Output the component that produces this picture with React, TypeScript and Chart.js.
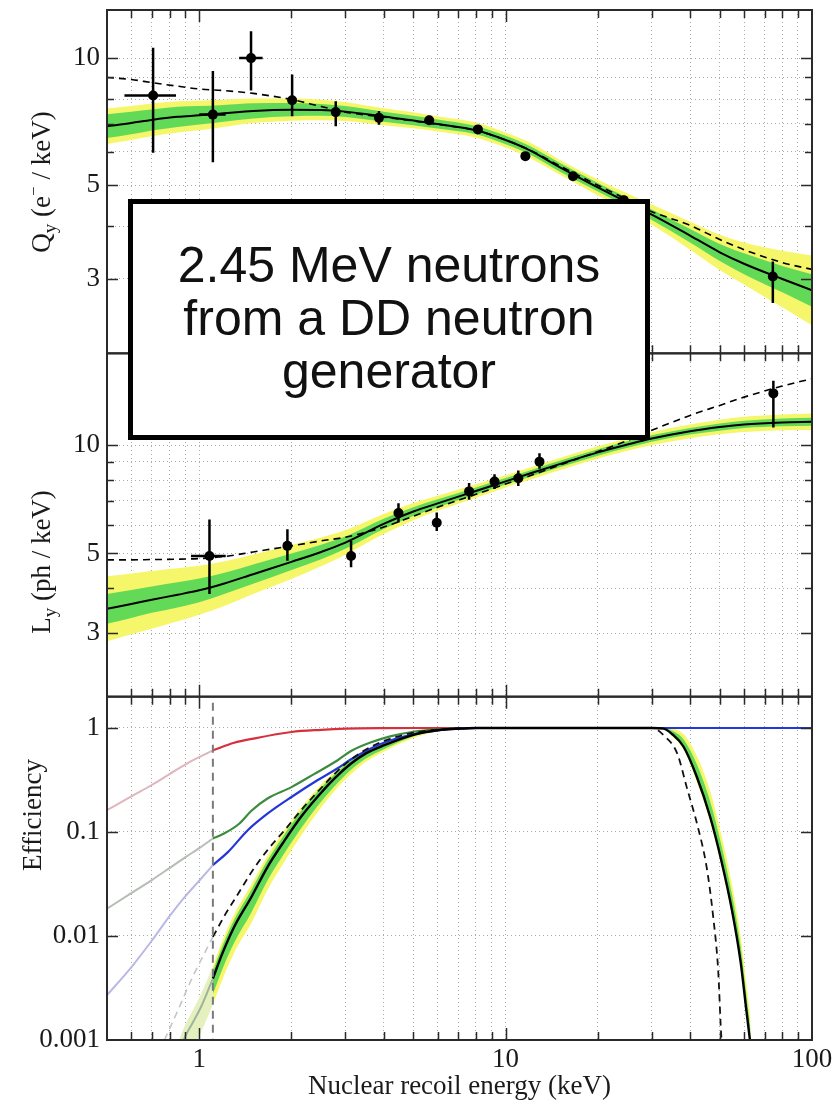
import { useEffect, useRef } from 'react';
import { Chart, registerables } from 'chart.js';

Chart.register(...registerables);

const SERIF = '"Liberation Serif", "Times New Roman", Times, serif';
const SANS = '"Liberation Sans", Arial, Helvetica, sans-serif';

// ---------------- axes ----------------
const xMin = 0.5;
const xMax = 100;
const xGridValues = [0.5, 0.6, 0.7, 0.8, 0.9, 1, 2, 3, 4, 5, 6, 7, 8, 9, 10, 20, 30, 40, 50, 60, 70, 80, 90, 100];
const xLabelValues = [1, 10, 100];

const qyMin = 2;
const qyMax = 13;
const qyGridValues = [3, 4, 5, 6, 7, 8, 9, 10];
const qyLabelValues = [3, 5, 10];

const lyMin = 2;
const lyMax = 18;
const lyGridValues = [3, 4, 5, 6, 7, 8, 9, 10];
const lyLabelValues = [3, 5, 10];

const effMin = 0.001;
const effMax = 2;
const effGridValues = [0.001, 0.01, 0.1, 1];
const effLabelValues = [0.001, 0.01, 0.1, 1];

// ---------------- Qy / Ly fits ----------------
const fitX = [0.5, 0.6, 0.7, 0.85, 1, 1.2, 1.5, 2, 2.5, 3, 4, 5, 6, 8, 10, 12, 15, 20, 25, 30, 40, 50, 60, 80, 100];

const qyFit = [6.90, 7.02, 7.14, 7.26, 7.32, 7.40, 7.50, 7.55, 7.54, 7.47, 7.27, 7.12, 6.98, 6.75, 6.40, 6.05, 5.52, 4.94, 4.55, 4.26, 3.80, 3.47, 3.26, 3.00, 2.82];
const qyGreenHi = [7.36, 7.47, 7.56, 7.67, 7.70, 7.75, 7.82, 7.83, 7.79, 7.70, 7.47, 7.30, 7.16, 6.91, 6.55, 6.19, 5.65, 5.06, 4.67, 4.38, 3.94, 3.63, 3.45, 3.22, 3.08];
const qyGreenLo = [6.47, 6.60, 6.74, 6.87, 6.96, 7.07, 7.20, 7.28, 7.30, 7.25, 7.07, 6.94, 6.81, 6.60, 6.25, 5.91, 5.39, 4.83, 4.44, 4.14, 3.66, 3.31, 3.08, 2.79, 2.58];
const qyYellowHi = [7.60, 7.70, 7.81, 7.91, 7.93, 7.97, 8.02, 8.02, 7.97, 7.86, 7.61, 7.44, 7.28, 7.04, 6.67, 6.31, 5.75, 5.16, 4.78, 4.50, 4.10, 3.82, 3.66, 3.50, 3.41];
const qyYellowLo = [6.26, 6.40, 6.53, 6.67, 6.75, 6.87, 7.02, 7.11, 7.13, 7.10, 6.94, 6.82, 6.70, 6.48, 6.14, 5.80, 5.30, 4.73, 4.34, 4.03, 3.52, 3.15, 2.91, 2.57, 2.33];
const qyDashed = [9.0, 8.9, 8.75, 8.58, 8.45, 8.38, 8.25, 7.98, 7.68, 7.45, 7.25, 7.10, 6.97, 6.74, 6.40, 6.06, 5.56, 5.0, 4.62, 4.33, 4.02, 3.72, 3.52, 3.28, 3.16];

const lyFit = [3.51, 3.62, 3.72, 3.84, 3.95, 4.12, 4.38, 4.74, 5.05, 5.36, 6.04, 6.54, 6.89, 7.46, 7.93, 8.34, 8.86, 9.55, 10.04, 10.43, 10.93, 11.23, 11.42, 11.57, 11.62];
const lyGreenHi = [3.86, 3.96, 4.05, 4.16, 4.26, 4.41, 4.66, 5.00, 5.29, 5.57, 6.24, 6.72, 7.07, 7.63, 8.10, 8.51, 9.05, 9.75, 10.25, 10.65, 11.16, 11.49, 11.69, 11.87, 11.92];
const lyGreenLo = [3.19, 3.31, 3.42, 3.54, 3.66, 3.85, 4.12, 4.50, 4.82, 5.15, 5.85, 6.36, 6.72, 7.29, 7.77, 8.17, 8.68, 9.35, 9.83, 10.22, 10.71, 10.97, 11.16, 11.28, 11.33];
const lyYellowHi = [4.32, 4.40, 4.47, 4.55, 4.62, 4.75, 4.97, 5.28, 5.54, 5.80, 6.44, 6.91, 7.23, 7.79, 8.25, 8.67, 9.21, 9.93, 10.44, 10.87, 11.42, 11.76, 11.99, 12.17, 12.25];
const lyYellowLo = [2.85, 2.98, 3.09, 3.24, 3.38, 3.57, 3.86, 4.25, 4.61, 4.96, 5.66, 6.19, 6.57, 7.14, 7.63, 8.02, 8.52, 9.18, 9.65, 10.01, 10.46, 10.72, 10.88, 11.00, 11.02];
const lyDashed = [4.80, 4.80, 4.81, 4.82, 4.84, 4.90, 5.05, 5.25, 5.42, 5.55, 5.92, 6.35, 6.72, 7.30, 7.80, 8.22, 8.80, 9.60, 10.3, 11.0, 12.1, 12.9, 13.6, 14.6, 15.3];

// ---------------- measured points ----------------
const qyPointX = [0.707, 1.108, 1.476, 2.01, 2.79, 3.86, 5.63, 8.12, 11.6, 16.6, 24.3, 74.5];
const qyPointY = [8.16, 7.35, 10.0, 7.95, 7.45, 7.22, 7.13, 6.78, 5.86, 5.25, 4.61, 3.04];
const qyErrLo = [5.97, 5.67, 8.38, 7.28, 6.90, 6.95, 6.95, 6.65, 5.75, 5.15, 4.50, 2.63];
const qyErrHi = [10.58, 9.32, 11.58, 9.14, 7.90, 7.50, 7.30, 6.92, 5.97, 5.35, 4.72, 3.30];
const qyErrXLo = [0.57, 1.0, 1.35, 2.01, 2.79, 3.86, 5.63, 8.12, 11.6, 16.6, 24.3, 74.5];
const qyErrXHi = [0.84, 1.22, 1.61, 2.01, 2.79, 3.86, 5.63, 8.12, 11.6, 16.6, 24.3, 74.5];

const lyPointX = [1.08, 1.94, 3.13, 4.47, 5.96, 7.6, 9.2, 11.0, 12.9, 74.8];
const lyPointY = [4.92, 5.25, 4.92, 6.48, 6.09, 7.44, 7.92, 8.09, 9.0, 13.93];
const lyErrLo = [3.86, 4.77, 4.58, 6.10, 5.77, 7.05, 7.55, 7.70, 8.60, 11.2];
const lyErrHi = [6.21, 5.84, 5.42, 6.90, 6.50, 7.85, 8.30, 8.50, 9.50, 15.1];
const lyErrXLo = [0.94, 1.94, 3.13, 4.47, 5.96, 7.6, 9.2, 11.0, 12.9, 74.8];
const lyErrXHi = [1.22, 1.94, 3.13, 4.47, 5.96, 7.6, 9.2, 11.0, 12.9, 74.8];

// ---------------- efficiency ----------------
const thresholdX = [1.108, 1.108];
const thresholdY = [1.75, 0.001];

const effRedFadedX = [0.5, 0.6, 0.7, 0.8, 0.9, 1.0, 1.108];
const effRedFadedY = [0.162, 0.22, 0.283, 0.36, 0.445, 0.525, 0.61];
const effRedX = [1.108, 1.3, 1.5, 2, 2.5, 3, 4, 6, 100];
const effRedY = [0.61, 0.72, 0.79, 0.915, 0.96, 0.985, 0.997, 1, 1];

const effGreenFadedX = [0.5, 0.6, 0.7, 0.8, 0.9, 1.0, 1.108];
const effGreenFadedY = [0.0183, 0.0258, 0.0345, 0.045, 0.057, 0.070, 0.0865];
const effGreenX = [1.108, 1.2, 1.35, 1.48, 1.67, 2.0, 2.37, 2.83, 3.13, 3.6, 4.2, 5, 6, 7, 8, 100];
const effGreenY = [0.0865, 0.096, 0.12, 0.16, 0.21, 0.27, 0.36, 0.49, 0.6, 0.72, 0.83, 0.92, 0.97, 0.99, 1, 1];

const effBlueFadedX = [0.5, 0.6, 0.7, 0.8, 0.9, 1.0, 1.108];
const effBlueFadedY = [0.0027, 0.005, 0.009, 0.0155, 0.024, 0.034, 0.048];
const effBlueX = [1.108, 1.24, 1.44, 1.67, 2.0, 2.43, 2.83, 3.13, 4, 5, 6, 7, 8, 100];
const effBlueY = [0.048, 0.064, 0.104, 0.15, 0.217, 0.314, 0.41, 0.5, 0.72, 0.87, 0.95, 0.985, 1, 1];

const effDashFadedX = [0.77, 0.85, 0.95, 1.108];
const effDashFadedY = [0.001, 0.0019, 0.004, 0.0098];
const effDashX = [1.108, 1.22, 1.34, 1.48, 1.67, 1.9, 2.15, 2.43, 2.76, 3.05, 3.5, 4, 5, 6, 7, 8, 30, 32.8, 36.3, 39, 42.4, 45.3, 47.6, 49.4, 50.6, 51.2];
const effDashY = [0.0098, 0.0164, 0.0255, 0.041, 0.067, 0.104, 0.162, 0.242, 0.36, 0.47, 0.62, 0.75, 0.9, 0.965, 0.99, 1, 1, 0.85, 0.57, 0.27, 0.112, 0.046, 0.0152, 0.0047, 0.00106, 0.0008];

const effFitFadedX = [0.86, 0.9, 0.95, 1.015, 1.108];
const effFitFadedY = [0.00078, 0.00108, 0.00145, 0.0021, 0.0039];
const effFitFadedHi = [0.001, 0.0014, 0.0019, 0.0028, 0.0051];
const effFitFadedLo = [0.0004, 0.0006, 0.0008, 0.0012, 0.0022];

const effFitX = [1.108, 1.19, 1.3, 1.48, 1.67, 1.9, 2.15, 2.43, 2.76, 3.13, 3.5, 4, 5, 6, 7, 8, 30, 32.8, 35, 38.1, 42.1, 46.5, 50.6, 54.8, 58.4, 61.1, 63];
const effFitY = [0.0039, 0.0068, 0.0122, 0.0237, 0.046, 0.083, 0.14, 0.217, 0.326, 0.455, 0.57, 0.68, 0.86, 0.95, 0.985, 1, 1, 0.985, 0.87, 0.66, 0.338, 0.14, 0.053, 0.0177, 0.0058, 0.0019, 0.0009];
const effYellowHi = [0.0051, 0.009, 0.0161, 0.0312, 0.059, 0.1045, 0.172, 0.261, 0.379, 0.51, 0.625, 0.729, 0.89, 0.96, 0.99, 1, 1, 1, 0.99, 0.87, 0.536, 0.249, 0.094, 0.0315, 0.0103, 0.0034, 0.0016];
const effYellowLo = [0.0022, 0.0038, 0.0069, 0.0133, 0.0277, 0.0524, 0.0925, 0.154, 0.247, 0.361, 0.474, 0.592, 0.80, 0.925, 0.975, 1, 1, 0.97, 0.83, 0.616, 0.301, 0.125, 0.047, 0.0158, 0.0052, 0.0017, 0.0008];
const effGreenHi = [0.00458, 0.008, 0.0143, 0.0278, 0.0534, 0.0953, 0.159, 0.2435, 0.357, 0.488, 0.604, 0.709, 0.877, 0.956, 0.988, 1, 1, 0.995, 0.943, 0.776, 0.446, 0.198, 0.075, 0.025, 0.0082, 0.0027, 0.00127];
const effGreenLo = [0.00276, 0.0048, 0.0086, 0.0168, 0.0341, 0.063, 0.1086, 0.1764, 0.274, 0.396, 0.508, 0.626, 0.83, 0.935, 0.98, 1, 1, 0.975, 0.846, 0.633, 0.315, 0.131, 0.0495, 0.0165, 0.0054, 0.00177, 0.00084];

// ---------------- annotation text ----------------
const boxLines = ['2.45 MeV neutrons', 'from a DD neutron', 'generator'];
const xTitle = 'Nuclear recoil energy (keV)';

// ---------------- colours ----------------
const YELLOW = '#f6f66a';
const GREEN = '#62d957';
const FADED_BAND = '#e4f1bf';

const same = (a: number, b: number) => Math.abs(a - b) <= Math.abs(b) * 1e-6;
const pts = (xs: number[], ys: number[]) => xs.map((x, i) => ({ x, y: ys[i] }));

function line(axis: string, xs: number[], ys: number[], opts: any = {}) {
  return {
    data: pts(xs, ys),
    yAxisID: axis,
    pointRadius: 0,
    pointHoverRadius: 0,
    borderWidth: 2,
    borderColor: '#000',
    fill: false,
    cubicInterpolationMode: 'monotone',
    ...opts,
  };
}

function band(axis: string, xs: number[], hi: number[], lo: number[], color: string, order: number) {
  return [
    line(axis, xs, hi, { borderWidth: 0, borderColor: 'rgba(0,0,0,0)', backgroundColor: color, fill: '+1', order }),
    line(axis, xs, lo, { borderWidth: 0, borderColor: 'rgba(0,0,0,0)', order }),
  ];
}

function points(axis: string, xs: number[], ys: number[]) {
  return {
    data: pts(xs, ys),
    yAxisID: axis,
    showLine: false,
    pointRadius: 5,
    pointHoverRadius: 5,
    pointBackgroundColor: '#000',
    pointBorderColor: '#000',
    pointBorderWidth: 0,
    order: 0,
  };
}

const errorSets = [
  { axis: 'yQ', x: qyPointX, y: qyPointY, lo: qyErrLo, hi: qyErrHi, xlo: qyErrXLo, xhi: qyErrXHi },
  { axis: 'yL', x: lyPointX, y: lyPointY, lo: lyErrLo, hi: lyErrHi, xlo: lyErrXLo, xhi: lyErrXHi },
];

const panels = [
  { axis: 'yQ', ticks: qyGridValues, majors: qyLabelValues },
  { axis: 'yL', ticks: lyGridValues, majors: lyLabelValues },
  { axis: 'yE', ticks: effGridValues, majors: effLabelValues },
];

function fmt(v: number) {
  return String(v);
}

function yScale(min: number, max: number, grid: number[], labels: number[], weight: number) {
  return {
    type: 'logarithmic',
    position: 'left',
    stack: 'panels',
    stackWeight: 1,
    weight,
    min,
    max,
    afterBuildTicks: (s: any) => {
      s.ticks = grid.map((v) => ({ value: v }));
    },
    afterFit: (s: any) => {
      s.width = 107;
      s.paddingTop = 0;
      s.paddingBottom = 0;
    },
    ticks: {
      autoSkip: false,
      padding: 7,
      color: '#1a1a1a',
      font: { family: SERIF, size: 27 },
      callback: (v: number) => (labels.some((l) => same(v, l)) ? fmt(v) : ''),
    },
    grid: {
      drawTicks: false,
      lineWidth: 1,
      color: (ctx: any) =>
        ctx.tick && !same(ctx.tick.value, min) && !same(ctx.tick.value, max) ? '#a9a9a9' : 'rgba(0,0,0,0)',
    },
    border: { display: false, dash: [1, 3] },
  };
}

function drawRich(ctx: CanvasRenderingContext2D, cx: number, cy: number, parts: { t: string; s: number; dy?: number }[]) {
  ctx.save();
  ctx.translate(cx, cy);
  ctx.rotate(-Math.PI / 2);
  let total = 0;
  for (const p of parts) {
    ctx.font = `${p.s}px ${SERIF}`;
    total += ctx.measureText(p.t).width;
  }
  let x = -total / 2;
  ctx.textAlign = 'left';
  ctx.textBaseline = 'alphabetic';
  ctx.fillStyle = '#1a1a1a';
  for (const p of parts) {
    ctx.font = `${p.s}px ${SERIF}`;
    ctx.fillText(p.t, x, p.dy || 0);
    x += ctx.measureText(p.t).width;
  }
  ctx.restore();
}

const decorPlugin = {
  id: 'decor',
  beforeDatasetDraw(chart: any, args: any) {
    const ys = chart.scales[args.meta.yAxisID];
    const ca = chart.chartArea;
    const ctx = chart.ctx;
    ctx.save();
    ctx.beginPath();
    ctx.rect(ca.left, ys.top, ca.right - ca.left, ys.bottom - ys.top);
    ctx.clip();
  },
  afterDatasetDraw(chart: any) {
    chart.ctx.restore();
  },
  afterDatasetsDraw(chart: any) {
    const ctx: CanvasRenderingContext2D = chart.ctx;
    const xs = chart.scales.x;
    const ca = chart.chartArea;

    // error bars
    for (const e of errorSets) {
      const ys = chart.scales[e.axis];
      ctx.save();
      ctx.beginPath();
      ctx.rect(ca.left, ys.top, ca.right - ca.left, ys.bottom - ys.top);
      ctx.clip();
      ctx.strokeStyle = '#000';
      ctx.lineWidth = 2.5;
      e.x.forEach((x, i) => {
        const px = xs.getPixelForValue(x);
        const py = ys.getPixelForValue(e.y[i]);
        ctx.beginPath();
        ctx.moveTo(px, ys.getPixelForValue(e.lo[i]));
        ctx.lineTo(px, ys.getPixelForValue(e.hi[i]));
        if (e.xhi[i] > e.xlo[i]) {
          ctx.moveTo(xs.getPixelForValue(e.xlo[i]), py);
          ctx.lineTo(xs.getPixelForValue(e.xhi[i]), py);
        }
        ctx.stroke();
      });
      ctx.restore();
    }

    // frames and inward ticks
    ctx.save();
    ctx.strokeStyle = '#2a2a2a';
    for (const p of panels) {
      const ys = chart.scales[p.axis];
      const top = ys.top;
      const bottom = ys.bottom;
      ctx.lineWidth = 1.5;
      ctx.beginPath();
      for (const v of xGridValues) {
        if (same(v, xMin) || same(v, xMax)) continue;
        const px = Math.round(xs.getPixelForValue(v)) + 0.5;
        const len = xLabelValues.some((l) => same(l, v)) ? 12 : 8;
        ctx.moveTo(px, top);
        ctx.lineTo(px, top + len);
        ctx.moveTo(px, bottom);
        ctx.lineTo(px, bottom - len);
      }
      for (const v of p.ticks) {
        const py = Math.round(ys.getPixelForValue(v)) + 0.5;
        if (py <= top + 1 || py >= bottom - 1) continue;
        const len = p.majors.some((l) => same(l, v)) ? 11 : 7;
        ctx.moveTo(ca.left, py);
        ctx.lineTo(ca.left + len, py);
        ctx.moveTo(ca.right, py);
        ctx.lineTo(ca.right - len, py);
      }
      ctx.stroke();
      ctx.lineWidth = 2;
      ctx.strokeRect(ca.left, top, ca.right - ca.left, bottom - top);
    }
    ctx.restore();
  },
  afterDraw(chart: any) {
    const ctx: CanvasRenderingContext2D = chart.ctx;
    const ca = chart.chartArea;

    // axis titles
    drawRich(ctx, 50, 182, [
      { t: 'Q', s: 27 },
      { t: 'y', s: 19, dy: 6 },
      { t: ' (e', s: 27 },
      { t: '\u2212', s: 17, dy: -11 },
      { t: ' / keV)', s: 27 },
    ]);
    drawRich(ctx, 50, 562, [
      { t: 'L', s: 27 },
      { t: 'y', s: 19, dy: 6 },
      { t: ' (ph / keV)', s: 27 },
    ]);
    drawRich(ctx, 41, 815, [{ t: 'Efficiency', s: 27 }]);

    ctx.save();
    ctx.font = `27px ${SERIF}`;
    ctx.fillStyle = '#1a1a1a';
    ctx.textAlign = 'center';
    ctx.textBaseline = 'alphabetic';
    ctx.fillText(xTitle, (ca.left + ca.right) / 2, 1094);
    ctx.restore();

    // annotation box
    ctx.save();
    ctx.fillStyle = '#fff';
    ctx.fillRect(130.5, 201.5, 517, 236);
    ctx.lineWidth = 5;
    ctx.strokeStyle = '#000';
    ctx.strokeRect(130.5, 201.5, 517, 236);
    ctx.font = `50px ${SANS}`;
    ctx.fillStyle = '#111';
    ctx.textAlign = 'center';
    ctx.textBaseline = 'alphabetic';
    boxLines.forEach((t, i) => ctx.fillText(t, 389, 282 + i * 53));
    ctx.restore();
  },
};

function buildConfig(): any {
  const datasets: any[] = [
    // ---- Qy panel ----
    ...band('yQ', fitX, qyYellowHi, qyYellowLo, YELLOW, 30),
    ...band('yQ', fitX, qyGreenHi, qyGreenLo, GREEN, 29),
    line('yQ', fitX, qyFit, { borderWidth: 2, order: 10 }),
    line('yQ', fitX, qyDashed, { borderWidth: 1.6, borderDash: [7, 5], order: 9 }),
    points('yQ', qyPointX, qyPointY),

    // ---- Ly panel ----
    ...band('yL', fitX, lyYellowHi, lyYellowLo, YELLOW, 30),
    ...band('yL', fitX, lyGreenHi, lyGreenLo, GREEN, 29),
    line('yL', fitX, lyFit, { borderWidth: 2, order: 10 }),
    line('yL', fitX, lyDashed, { borderWidth: 1.6, borderDash: [7, 5], order: 9 }),
    points('yL', lyPointX, lyPointY),

    // ---- Efficiency panel ----
    ...band('yE', effFitFadedX, effFitFadedHi, effFitFadedLo, FADED_BAND, 31),
    ...band('yE', effFitX, effYellowHi, effYellowLo, YELLOW, 30),
    ...band('yE', effFitX, effGreenHi, effGreenLo, GREEN, 29),
    line('yE', effRedFadedX, effRedFadedY, { borderColor: '#dfb6be', borderWidth: 2, order: 20 }),
    line('yE', effGreenFadedX, effGreenFadedY, { borderColor: '#b5bdb5', borderWidth: 2, order: 20 }),
    line('yE', effBlueFadedX, effBlueFadedY, { borderColor: '#b9b9e6', borderWidth: 2, order: 20 }),
    line('yE', effDashFadedX, effDashFadedY, { borderColor: '#c2c6cc', borderWidth: 1.6, borderDash: [7, 5], order: 20 }),
    line('yE', effFitFadedX, effFitFadedY, { borderColor: '#9fb39f', borderWidth: 2, order: 20 }),
    line('yE', effRedX, effRedY, { borderColor: '#d6303d', borderWidth: 2.2, order: 14 }),
    line('yE', effGreenX, effGreenY, { borderColor: '#3d8b3d', borderWidth: 2.2, order: 13 }),
    line('yE', effBlueX, effBlueY, { borderColor: '#2436d8', borderWidth: 2.2, order: 12 }),
    line('yE', effDashX, effDashY, { borderColor: '#111', borderWidth: 1.8, borderDash: [7, 5], order: 11 }),
    line('yE', effFitX, effFitY, { borderColor: '#000', borderWidth: 2.4, order: 10 }),
    line('yE', thresholdX, thresholdY, {
      borderColor: '#7a7a7a',
      borderWidth: 2,
      borderDash: [8, 6],
      cubicInterpolationMode: 'default',
      tension: 0,
      order: 5,
    }),
  ];

  return {
    type: 'line',
    data: { datasets },
    plugins: [decorPlugin],
    options: {
      responsive: false,
      maintainAspectRatio: false,
      animation: false,
      devicePixelRatio: 1,
      events: [],
      layout: { padding: { left: 0, right: 28, top: 10, bottom: 0 } },
      plugins: {
        legend: { display: false },
        tooltip: { enabled: false },
        title: { display: false },
      },
      scales: {
        x: {
          type: 'logarithmic',
          position: 'bottom',
          min: xMin,
          max: xMax,
          afterBuildTicks: (s: any) => {
            s.ticks = xGridValues.map((v) => ({ value: v }));
          },
          afterFit: (s: any) => {
            s.height = 66;
            s.paddingLeft = 0;
            s.paddingRight = 0;
          },
          ticks: {
            autoSkip: false,
            maxRotation: 0,
            minRotation: 0,
            padding: 4,
            color: '#1a1a1a',
            font: { family: SERIF, size: 27 },
            callback: (v: number) => (xLabelValues.some((l) => same(v, l)) ? fmt(v) : ''),
          },
          grid: {
            drawTicks: false,
            lineWidth: 1,
            color: (ctx: any) =>
              ctx.tick && !same(ctx.tick.value, xMin) && !same(ctx.tick.value, xMax) ? '#a9a9a9' : 'rgba(0,0,0,0)',
          },
          border: { display: false, dash: [1, 3] },
        },
        yQ: yScale(qyMin, qyMax, qyGridValues, qyLabelValues, 3),
        yL: yScale(lyMin, lyMax, lyGridValues, lyLabelValues, 2),
        yE: yScale(effMin, effMax, effGridValues, effLabelValues, 1),
      },
    },
  };
}

export default function App() {
  const ref = useRef<HTMLCanvasElement | null>(null);
  useEffect(() => {
    document.body.style.margin = '0';
    const canvas = ref.current;
    if (!canvas) return;
    const chart = new Chart(canvas, buildConfig());
    return () => chart.destroy();
  }, []);
  return (
    <div style={{ width: 840, height: 1106, position: 'relative', background: '#fff', overflow: 'hidden' }}>
      <canvas ref={ref} width={840} height={1106} style={{ display: 'block', width: 840, height: 1106 }} />
    </div>
  );
}
